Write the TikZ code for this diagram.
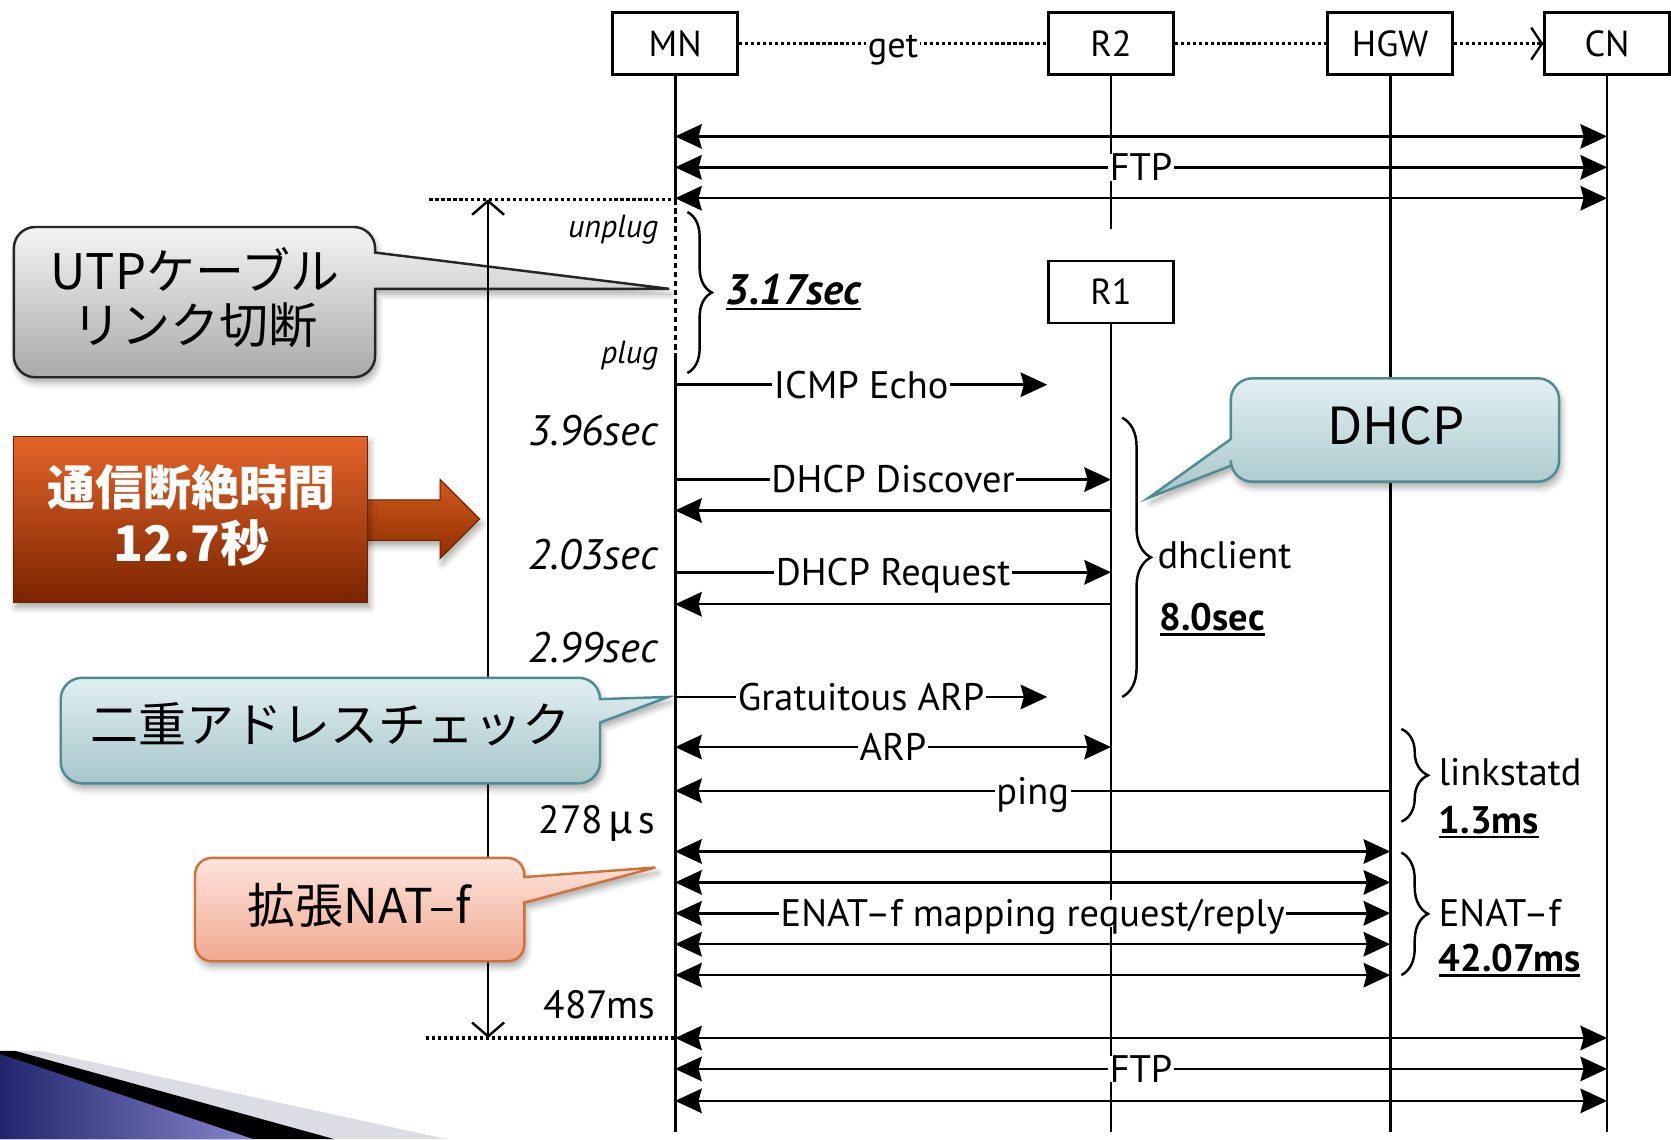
\documentclass[tikz,border=0pt]{standalone}
\usepackage{fontspec}
\setmainfont{PT Sans}
\newfontfamily\jp{Noto Sans CJK JP}
\usetikzlibrary{arrows.meta,decorations.pathreplacing,shadows.blur}

\definecolor{grayTop}{HTML}{F4F4F4}
\definecolor{grayBot}{HTML}{A9A9A9}
\definecolor{tealTop}{HTML}{E2EFF1}
\definecolor{tealBot}{HTML}{A6C6CA}
\definecolor{tealEdge}{HTML}{4E8B92}
\definecolor{pinkTop}{HTML}{FDE4DD}
\definecolor{pinkBot}{HTML}{F1A88F}
\definecolor{pinkEdge}{HTML}{D0703A}
\definecolor{rustTop}{HTML}{E5642A}
\definecolor{rustBot}{HTML}{7A2400}
\definecolor{rustEdge}{HTML}{6A2200}
\definecolor{shaftTop}{HTML}{D2581E}
\definecolor{shaftBot}{HTML}{8E3000}
\definecolor{navyA}{HTML}{23266E}
\definecolor{navyB}{HTML}{8585CC}
\definecolor{paleBand}{HTML}{DCDCE4}

\newcommand\fs[1]{\fontsize{#1}{#1}\selectfont}
\newcommand\thickul[1]{\setbox0=\hbox{#1}\leavevmode\rlap{\rule[-0.13em]{\wd0}{0.065em}}\box0}

\begin{document}
\begin{tikzpicture}[x=1pt,y=-1pt,
  hdr/.style={draw, line width=2.6pt, fill=white, minimum width=117pt,
    minimum height=58pt, inner sep=0pt, font=\fs{34}},
  life/.style={line width=2.6pt},
  msg/.style={line width=2.3pt},
  dotline/.style={line width=3pt, dash pattern=on 3pt off 2.6pt},
  lbl/.style={fill=white, inner xsep=1.5pt, inner ysep=0pt, text height=25pt,
    text depth=0pt, font=\fs{36}},
  side/.style={anchor=base east, inner sep=0pt, font=\fs{40}\itshape},
  tinyside/.style={anchor=base east, inner sep=0pt, font=\fs{30}\itshape},
  plain/.style={anchor=base east, inner sep=0pt, font=\fs{37}},
  note/.style={anchor=base west, inner sep=0pt, font=\fs{36}},
  boldnote/.style={anchor=base west, inner sep=0pt, font=\fs{36}\bfseries},
  brc/.style={decorate, decoration={brace, amplitude=#1}, line width=2.3pt},
  bubble/.style={anchor=base, inner sep=0pt, font=\fs{45}\jp},
  softshadow/.style={blur shadow={shadow xshift=2pt, shadow yshift=-5pt,
    shadow blur radius=6pt, shadow blur steps=6, shadow opacity=35}},
  >={Stealth[length=25pt,width=23pt,inset=3pt]}
]
\useasboundingbox (0,0) rectangle (1568,1069);

% corner ornament
\fill[paleBand] (0,986) -- (38,986) -- (420,1069) -- (0,1069) -- cycle;
\fill[black] (0,986) -- (14,986) -- (314,1069) -- (0,1069) -- cycle;
\shade[left color=navyA, right color=navyB] (0,989) -- (238,1069) -- (0,1069) -- cycle;

% participants
\node[hdr] (MN) at (633.5,41) {MN};
\node[hdr] (R2) at (1042.5,41) {R2};
\node[hdr] (HGW) at (1304.5,41) {HGW};
\node[hdr] (CN) at (1508,41) {CN};
\node[hdr] (R1) at (1042.5,274) {R1};

\coordinate (mnCut) at (633.5,187);
\coordinate (mnPlug) at (633.5,331);
\coordinate (mnRest) at (633.5,974);
\coordinate (mnEnd) at (633.5,1062);
\coordinate (r2End) at (1042.5,215);
\coordinate (r1End) at (1042.5,1062);
\coordinate (hgwEnd) at (1304.5,1062);
\coordinate (cnEnd) at (1508,1062);

% lifelines
\draw[life] (MN.south) -- (mnCut);
\draw[line width=3pt, dash pattern=on 5pt off 3.5pt] (mnCut) -- (mnPlug);
\draw[life] (mnPlug) -- (mnEnd);
\draw[life] (R2.south) -- (r2End);
\draw[life] (R1.south) -- (r1End);
\draw[life] (HGW.south) -- (hgwEnd);
\draw[life] (CN.south) -- (cnEnd);

% get path
\draw[dotline] (MN) -- node[lbl, font=\fs{34}] (getT) {get} (R2);
\draw[dotline] (R2) -- (HGW);
\draw[dotline, -{Straight Barb[length=10pt,width=30pt,line width=2.2pt]}] (HGW) -- (CN);

% FTP before the cut
\foreach \yy in {128,186} { \draw[msg,<->] (MN |- 0,\yy) -- (CN |- 0,\yy); }
\draw[msg,<->] (MN |- 0,157) -- node[lbl] (ftpA) {FTP} (CN |- 0,157);

% reconnection sequence
\draw[msg,->] (MN |- 0,361) -- node[lbl] (icmpT) {ICMP Echo} (R1.west |- 0,361);
\draw[msg,->] (MN |- 0,450) -- node[lbl] (discT) {DHCP Discover} (R1 |- 0,450);
\draw[msg,->] (R1 |- 0,479) -- (MN |- 0,479);
\draw[msg,->] (MN |- 0,537) -- node[lbl] (reqT) {DHCP Request} (R1 |- 0,537);
\draw[msg,->] (R1 |- 0,567) -- (MN |- 0,567);
\draw[msg,->] (MN |- 0,654) -- node[lbl] (garpT) {Gratuitous ARP} (R1.west |- 0,654);
\draw[msg,<->] (MN |- 0,701) -- node[lbl] (arpT) {ARP} (R1 |- 0,701);
\draw[msg,->] (HGW |- 0,742) -- node[lbl] (pingT) {ping} (MN |- 0,742);
\foreach \yy in {799,828,886,915} { \draw[msg,<->] (MN |- 0,\yy) -- (HGW |- 0,\yy); }
\draw[msg,<->] (MN |- 0,857) -- node[lbl] (enatT) {ENAT–f mapping request/reply} (HGW |- 0,857);

% FTP after recovery
\foreach \yy in {974,1033} { \draw[msg,<->] (MN |- 0,\yy) -- (CN |- 0,\yy); }
\draw[msg,<->] (MN |- 0,1003) -- node[lbl] (ftpB) {FTP} (CN |- 0,1003);

% outage limits
\coordinate (cutL) at (403,187);
\coordinate (restL) at (400,974);
\draw[dotline] (cutL) -- (mnCut);
\draw[dotline] (restL) -- (mnRest);

% braces
\draw[brc=23pt] (645,199) -- (645,350);
\draw[brc=27pt] (1053,392) -- (1053,654);
\draw[brc=25pt] (1315,684) -- (1315,771);
\draw[brc=25pt] (1315,800) -- (1315,915);

% timing labels
\node[tinyside] (unplugT) at (618,223) {unplug};
\node[tinyside] (plugT) at (618,341) {plug};
\node[side] (t396) at (618,418) {3.96sec};
\node[side] (t203) at (618,534) {2.03sec};
\node[side] (t299) at (618,622) {2.99sec};
\node[plain] (t278) at (615,782) {278\hspace{5pt}{\jp μ}\hspace{5pt}s};
\node[plain] (t487) at (615,956) {487ms};
\node[anchor=base west, inner sep=0pt, font=\fs{40}\bfseries\itshape] (t317) at (681,286) {\thickul{3.17sec}};
\node[note] (dhc) at (1086,533) {dhclient};
\node[boldnote] (t80) at (1088,592) {\thickul{8.0sec}};
\node[note] (lsd) at (1350,737) {linkstatd};
\node[boldnote] (t13) at (1350,782) {\thickul{1.3ms}};
\node[note] (enf) at (1350,869) {ENAT–f};
\node[boldnote] (t4207) at (1350,912) {\thickul{42.07ms}};

% cable callout
\path[draw=black!85, line width=2.3pt, top color=grayTop, bottom color=grayBot, softshadow]
  (33,213) -- (332,213) .. controls +(11,0) and +(0,-11) .. (352,233) -- (352,237)
  -- (628,271) -- (352,271) -- (352,334) .. controls +(0,11) and +(11,0) .. (332,354)
  -- (33,354) .. controls +(-11,0) and +(0,11) .. (13,334) -- (13,233)
  .. controls +(0,-11) and +(-11,0) .. (33,213) -- cycle;
\node[bubble, font=\fs{46}\jp] (utpA) at (183,272) {UTPケーブル};
\node[bubble, font=\fs{46}\jp] (utpB) at (183,322) {リンク切断};

% outage span
\coordinate (spanTop) at (458,187);
\coordinate (spanBot) at (458,974);
\draw[line width=2.3pt, {Straight Barb[length=13pt,width=30pt]}-{Straight Barb[length=13pt,width=30pt]}] (spanTop) -- (spanBot);

% total outage block
\path[draw=rustEdge, line width=1pt, top color=shaftTop, bottom color=shaftBot, softshadow]
  (340,469) -- (413,469) -- (413,450) -- (450,487) -- (413,524) -- (413,507) -- (340,507) -- cycle;
\path[draw=rustEdge, line width=1pt, top color=rustTop, bottom color=rustBot, softshadow]
  (13,410) rectangle (345,565);
\node[bubble, font=\fs{45}\jp\bfseries, text=white] (outA) at (180,474) {通信断絶時間};
\node[bubble, font=\fs{46}\jp\bfseries, text=white] (outB) at (180,527) {12.7秒};

% DHCP callout
\path[draw=tealEdge, line width=2.3pt, top color=tealTop, bottom color=tealBot, softshadow]
  (1175,355) -- (1443,355) .. controls +(11,0) and +(0,-11) .. (1463,375) -- (1463,432)
  .. controls +(0,11) and +(11,0) .. (1443,452) -- (1175,452)
  .. controls +(-11,0) and +(0,11) .. (1155,432) -- (1155,437) -- (1078,467)
  -- (1155,412) -- (1155,375) .. controls +(0,-11) and +(-11,0) .. (1175,355) -- cycle;
\node[bubble, font=\fs{48}\jp] (dhcpT) at (1310,417) {DHCP};

% duplicate address check callout
\path[draw=tealEdge, line width=2.3pt, top color=tealTop, bottom color=tealBot, softshadow]
  (77,636) -- (543,636) .. controls +(11,0) and +(0,-11) .. (563,656) -- (627,654)
  -- (563,678) -- (563,715) .. controls +(0,11) and +(11,0) .. (543,735) -- (77,735)
  .. controls +(-11,0) and +(0,11) .. (57,715) -- (57,656)
  .. controls +(0,-11) and +(-11,0) .. (77,636) -- cycle;
\node[bubble] (dupT) at (310,697) {二重アドレスチェック};

% extended NAT-f callout
\path[draw=pinkEdge, line width=2.3pt, top color=pinkTop, bottom color=pinkBot, softshadow]
  (199,805) -- (476,805) .. controls +(9,0) and +(0,-9) .. (492,821) -- (492,823)
  -- (615,814) -- (492,847) -- (492,886) .. controls +(0,9) and +(9,0) .. (476,902)
  -- (199,902) .. controls +(-9,0) and +(0,9) .. (183,886) -- (183,821)
  .. controls +(0,-9) and +(-9,0) .. (199,805) -- cycle;
\node[bubble] (natT) at (337,867) {拡張NAT–f};

\end{tikzpicture}
\end{document}
